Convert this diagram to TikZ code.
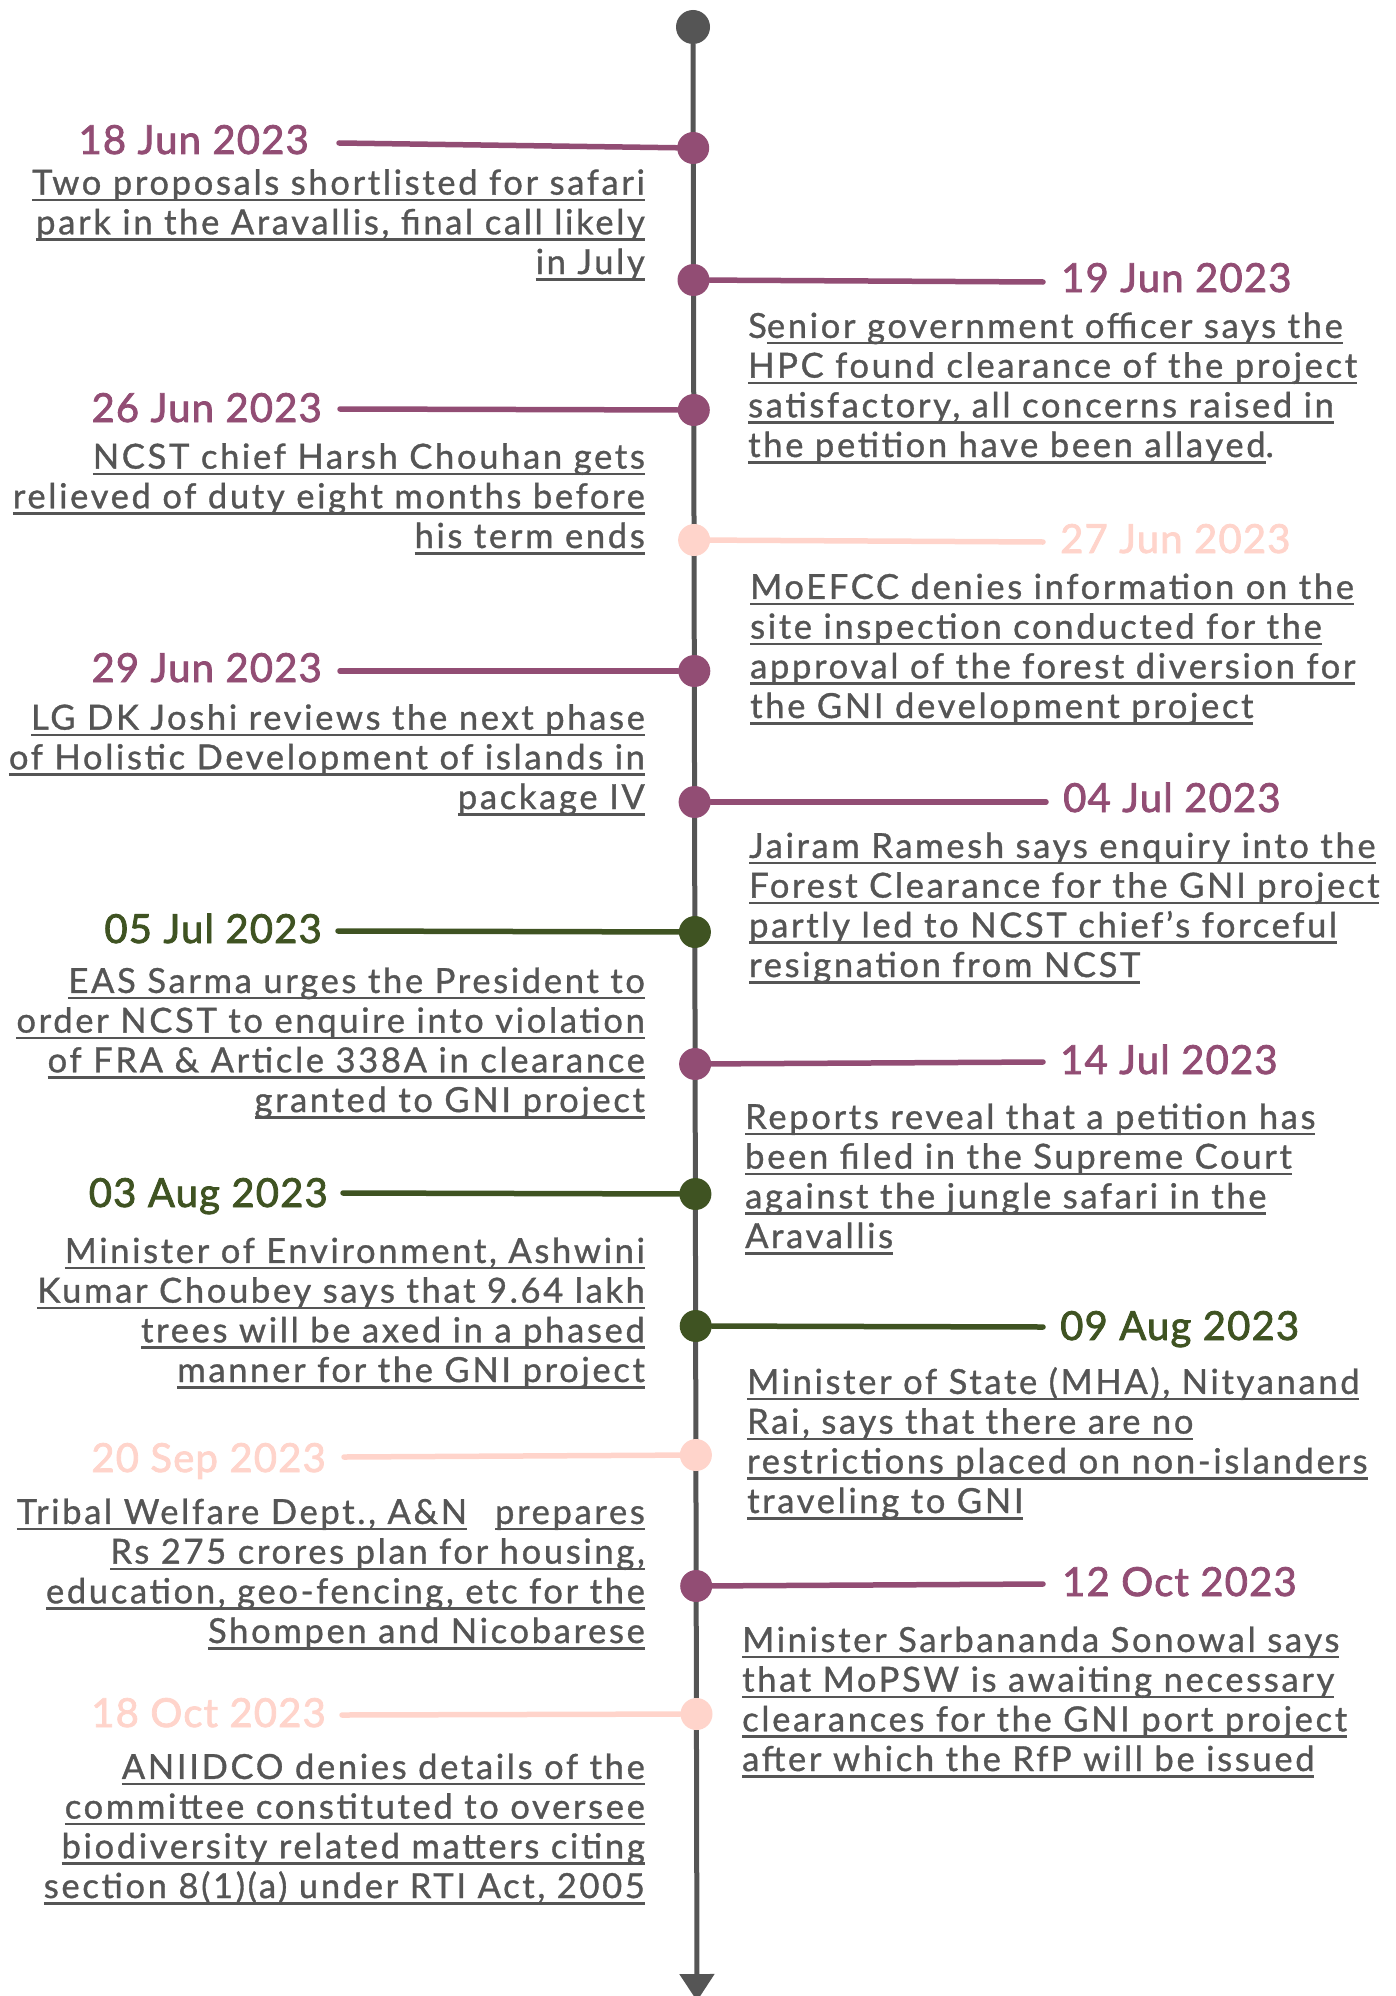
\documentclass[tikz,border=0pt]{standalone}
\usepackage{fontspec}
\setmainfont{Lato}
\newfontfamily\bodyfam[LetterSpace=7.8,FakeBold=1]{Lato}
\newfontfamily\datefam[LetterSpace=3,FakeBold=2]{Lato}
\usetikzlibrary{arrows.meta}
\definecolor{evpurple}{HTML}{924D74}
\definecolor{evgreen}{HTML}{3F5322}
\definecolor{evpink}{HTML}{FFD4CB}
\definecolor{txtgray}{HTML}{555555}
\newcommand\bodyfont{\bodyfam\fontsize{34.5}{39.7}\selectfont}
\newcommand\datefont{\datefam\fontsize{40}{44}\selectfont}
\newcommand\ulx[1]{\setbox0\hbox{#1}\rlap{\rule[-6.5pt]{\wd0}{2.6pt}}\box0}
\tikzset{
  dotnode/.style={circle, fill=#1, minimum size=32pt, inner sep=0pt},
  conn/.style={line width=5.5pt, line cap=round, draw=#1},
  datel/.style={font=\datefont, text=#1, inner sep=0pt, anchor=base east},
  dater/.style={font=\datefont, text=#1, inner sep=0pt, anchor=base west},
  bodyl/.style={font=\bodyfont, text=txtgray, align=right, inner sep=0pt, anchor=base east},
  bodyr/.style={font=\bodyfont, text=txtgray, align=left, inner sep=0pt, anchor=base west},
}
\begin{document}
\begin{tikzpicture}[x=1pt,y=-1pt]
\useasboundingbox (0,0) rectangle (1395,1996);
% timeline
\node[dotnode=txtgray, minimum size=34pt] (top) at (693,27) {};
\coordinate (tip) at (697,2001);
\draw[line width=5pt, draw=txtgray, -{Triangle[width=34pt,length=27pt]}] (top) -- (tip);
% dots
\node[dotnode=evpurple] (d1) at (693.2,148) {};
\node[dotnode=evpurple] (d2) at (693.5,280) {};
\node[dotnode=evpurple] (d3) at (693.8,410) {};
\node[dotnode=evpink]   (d4) at (694.1,540) {};
\node[dotnode=evpurple] (d5) at (694.3,671) {};
\node[dotnode=evpurple] (d6) at (694.6,802) {};
\node[dotnode=evgreen]  (d7) at (694.9,932) {};
\node[dotnode=evpurple] (d8) at (695.1,1064) {};
\node[dotnode=evgreen]  (d9) at (695.4,1194) {};
\node[dotnode=evgreen]  (d10) at (695.7,1326) {};
\node[dotnode=evpink]   (d11) at (695.9,1455) {};
\node[dotnode=evpurple] (d12) at (696.2,1586) {};
\node[dotnode=evpink]   (d13) at (696.5,1714) {};
% connector ends
\coordinate (c1) at (339,143);
\coordinate (c2) at (1043,282);
\coordinate (c3) at (340,409);
\coordinate (c4) at (1043,542);
\coordinate (c5) at (340,671);
\coordinate (c6) at (1046,802);
\coordinate (c7) at (338,931);
\coordinate (c8) at (1043,1062);
\coordinate (c9) at (343,1193);
\coordinate (c10) at (1043,1327);
\coordinate (c11) at (344,1457);
\coordinate (c12) at (1043,1584);
\coordinate (c13) at (342,1715);
\draw[conn=evpurple] (c1) -- (d1);
\draw[conn=evpurple] (d2) -- (c2);
\draw[conn=evpurple] (c3) -- (d3);
\draw[conn=evpink]   (d4) -- (c4);
\draw[conn=evpurple] (c5) -- (d5);
\draw[conn=evpurple] (d6) -- (c6);
\draw[conn=evgreen]  (c7) -- (d7);
\draw[conn=evpurple] (d8) -- (c8);
\draw[conn=evgreen]  (c9) -- (d9);
\draw[conn=evgreen]  (d10) -- (c10);
\draw[conn=evpink]   (c11) -- (d11);
\draw[conn=evpurple] (d12) -- (c12);
\draw[conn=evpink]   (c13) -- (d13);
% dates
\node[datel=evpurple] (t1) at (309,154) {18 Jun 2023};
\node[dater=evpurple] (t2) at (1061,292) {19 Jun 2023};
\node[datel=evpurple] (t3) at (322,422) {26 Jun 2023};
\node[dater=evpink]   (t4) at (1060,553) {27 Jun 2023};
\node[datel=evpurple] (t5) at (322,682) {29 Jun 2023};
\node[dater=evpurple] (t6) at (1063,812) {04 Jul 2023};
\node[datel=evgreen]  (t7) at (322,943) {05 Jul 2023};
\node[dater=evpurple] (t8) at (1060,1074) {14 Jul 2023};
\node[datel=evgreen]  (t9) at (328,1207) {03 Aug 2023};
\node[dater=evgreen]  (t10) at (1060,1340) {09 Aug 2023};
\node[datel=evpink]   (t11) at (326,1472) {20 Sep 2023};
\node[dater=evpurple] (t12) at (1062,1596) {12 Oct 2023};
\node[datel=evpink]   (t13) at (326,1727) {18 Oct 2023};
% bodies (anchored at the baseline of their last line)
\node[bodyl] (b1) at (645,274) {\ulx{Two proposals shortlisted for safari}\\\ulx{park in the Aravallis, final call likely}\\\ulx{in July}};
\node[bodyr] (b2) at (748,457) {S\ulx{enior government officer says the}\\\ulx{HPC found clearance of the project}\\\ulx{satisfactory, all concerns raised in}\\\ulx{the petition have been allayed}.};
\node[bodyl] (b3) at (645,548) {\ulx{NCST chief Harsh Chouhan gets}\\\ulx{relieved of duty eight months before}\\\ulx{his term ends}};
\node[bodyr] (b4) at (750,718) {\ulx{MoEFCC denies information on the}\\\ulx{site inspection conducted for the}\\\ulx{approval of the forest diversion for}\\\ulx{the GNI development project}};
\node[bodyl] (b5) at (645,809) {\ulx{LG DK Joshi reviews the next phase}\\\ulx{of Holistic Development of islands in}\\\ulx{package IV}};
\node[bodyr] (b6) at (749,977) {\ulx{Jairam Ramesh says enquiry into the}\\\ulx{Forest Clearance for the GNI project}\\\ulx{partly led to NCST chief’s forceful}\\\ulx{resignation from NCST}};
\node[bodyl] (b7) at (645,1112) {\ulx{EAS Sarma urges the President to}\\\ulx{order NCST to enquire into violation}\\\ulx{of FRA \& Article 338A in clearance}\\\ulx{granted to GNI project}};
\node[bodyr] (b8) at (745,1248) {\ulx{Reports reveal that a petition has}\\\ulx{been filed in the Supreme Court}\\\ulx{against the jungle safari in the}\\\ulx{Aravallis}};
\node[bodyl] (b9) at (645,1382) {\ulx{Minister of Environment, Ashwini}\\\ulx{Kumar Choubey says that 9.64 lakh}\\\ulx{trees will be axed in a phased}\\\ulx{manner for the GNI project}};
\node[bodyr] (b10) at (747,1513) {\ulx{Minister of State (MHA), Nityanand}\\\ulx{Rai, says that there are no}\\\ulx{restrictions placed on non-islanders}\\\ulx{traveling to GNI}};
\node[bodyl] (b11) at (645,1643) {\ulx{Tribal Welfare Dept., A\&N}\hspace{28pt}\ulx{prepares}\\\ulx{Rs 275 crores plan for housing,}\\\ulx{education, geo-fencing, etc for the}\\\ulx{Shompen and Nicobarese}};
\node[bodyr] (b12) at (742,1771) {\ulx{Minister Sarbananda Sonowal says}\\\ulx{that MoPSW is awaiting necessary}\\\ulx{clearances for the GNI port project}\\\ulx{after which the RfP will be issued}};
\node[bodyl] (b13) at (645,1898) {\ulx{ANIIDCO denies details of the}\\\ulx{committee constituted to oversee}\\\ulx{biodiversity related matters citing}\\\ulx{section 8(1)(a) under RTI Act, 2005}};
\end{tikzpicture}
\end{document}
